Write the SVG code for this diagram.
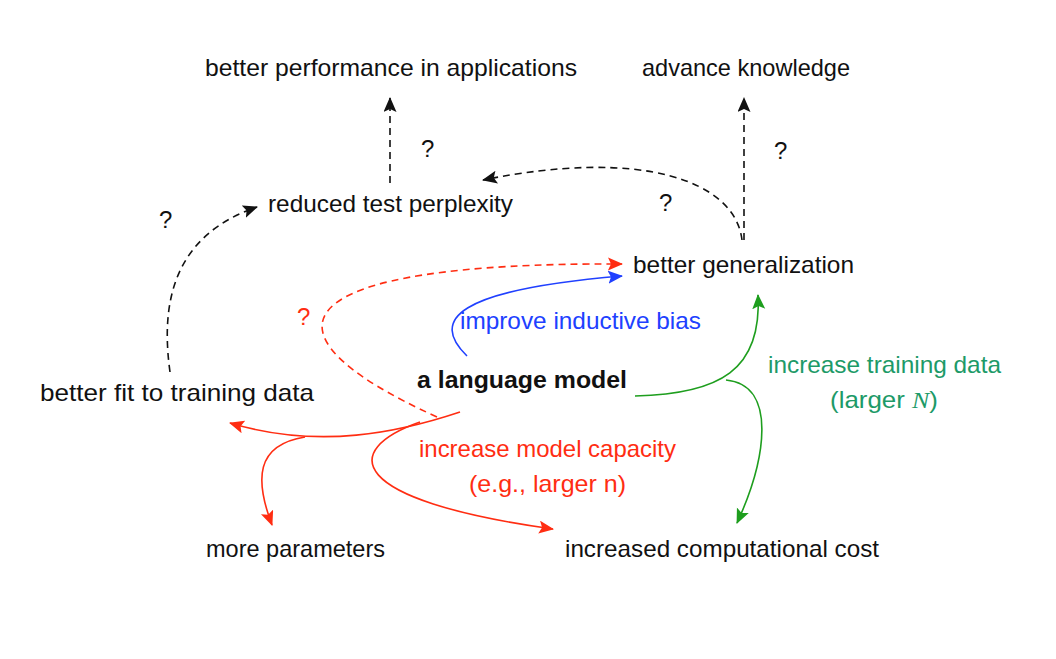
<svg xmlns="http://www.w3.org/2000/svg" width="1056" height="659" viewBox="0 0 1056 659">
<style>
text{font-family:"Liberation Sans","DejaVu Sans",sans-serif;font-size:24px;fill:#111}
.r{fill:#ff2d12}.b{fill:#2040ff}.g{fill:#1d9a68}
.bold{font-weight:bold}
.l{fill:none;stroke-width:1.6}
.k{stroke:#111}.rs{stroke:#ff2d12}.bs{stroke:#2040ff}.gs{stroke:#1e9e1e}
.d{stroke-dasharray:7 5}
</style>
<defs>
<marker id="ak" markerUnits="userSpaceOnUse" markerWidth="17" markerHeight="14" refX="14" refY="6.5" orient="auto"><path d="M0,0 L15,6.5 L0,13 L3,6.5 Z" fill="#111"/></marker>
<marker id="ar" markerUnits="userSpaceOnUse" markerWidth="17" markerHeight="14" refX="14" refY="6.5" orient="auto"><path d="M0,0 L15,6.5 L0,13 L3,6.5 Z" fill="#ff2d12"/></marker>
<marker id="ab" markerUnits="userSpaceOnUse" markerWidth="17" markerHeight="14" refX="14" refY="6.5" orient="auto"><path d="M0,0 L15,6.5 L0,13 L3,6.5 Z" fill="#2040ff"/></marker>
<marker id="ag" markerUnits="userSpaceOnUse" markerWidth="17" markerHeight="14" refX="14" refY="6.5" orient="auto"><path d="M0,0 L15,6.5 L0,13 L3,6.5 Z" fill="#1e9e1e"/></marker>
</defs>
<rect width="1056" height="659" fill="#fff"/>
<g id="connectors">
<path class="l k d" d="M390,183 L390,98" marker-end="url(#ak)"/>
<path class="l k d" d="M744,240 L744,98" marker-end="url(#ak)"/>
<path class="l k d" d="M742,240 C735,180 640,148 483,180" marker-end="url(#ak)"/>
<path class="l k d" d="M170,372 C160,300 175,235 257,207" marker-end="url(#ak)"/>
<path class="l rs d" d="M437,417 C245,330 285,262 622,264" marker-end="url(#ar)"/>
<path class="l bs" d="M467,356 C430,320 455,290 622,276" marker-end="url(#ab)"/>
<path class="l gs" d="M635,396 C720,394 762,370 758,295" marker-end="url(#ag)"/>
<path class="l gs" d="M726,380 C778,385 766,460 737,523" marker-end="url(#ag)"/>
<path class="l rs" d="M460,412 C400,432 320,450 230,423" marker-end="url(#ar)"/>
<path class="l rs" d="M305,437 C255,445 255,480 272,525" marker-end="url(#ar)"/>
<path class="l rs" d="M420,422 C340,450 345,500 553,529" marker-end="url(#ar)"/>
</g>
<g id="n-perf"><text x="205" y="76" textLength="372" lengthAdjust="spacingAndGlyphs">better performance in applications</text></g>
<g id="n-know"><text x="642" y="76" textLength="208" lengthAdjust="spacingAndGlyphs">advance knowledge</text></g>
<g id="n-ppl"><text x="268" y="212" textLength="245" lengthAdjust="spacingAndGlyphs">reduced test perplexity</text></g>
<g id="n-gen"><text x="633" y="273" textLength="221" lengthAdjust="spacingAndGlyphs">better generalization</text></g>
<g id="n-lm"><text class="bold" x="417" y="388" textLength="210" lengthAdjust="spacingAndGlyphs">a language model</text></g>
<g id="n-fit"><text x="40" y="401" textLength="274" lengthAdjust="spacingAndGlyphs">better fit to training data</text></g>
<g id="n-params"><text x="206" y="557" textLength="179" lengthAdjust="spacingAndGlyphs">more parameters</text></g>
<g id="n-cost"><text x="565" y="557" textLength="314" lengthAdjust="spacingAndGlyphs">increased computational cost</text></g>
<g id="labels">
<text class="b" x="460" y="329" textLength="241" lengthAdjust="spacingAndGlyphs">improve inductive bias</text>
<text class="r" x="419" y="457" textLength="257" lengthAdjust="spacingAndGlyphs">increase model capacity</text>
<text class="r" x="469" y="492" textLength="157" lengthAdjust="spacingAndGlyphs">(e.g., larger n)</text>
<text class="g" x="768" y="373" textLength="233" lengthAdjust="spacingAndGlyphs">increase training data</text>
<text class="g" x="830" y="408" textLength="108" lengthAdjust="spacingAndGlyphs">(larger <tspan style="font-family:'Liberation Serif',serif;font-style:italic">N</tspan>)</text>
<text x="421" y="157">?</text>
<text x="774" y="159">?</text>
<text x="159" y="228">?</text>
<text x="659" y="211">?</text>
<text class="r" x="297" y="325">?</text>
</g>
</svg>
